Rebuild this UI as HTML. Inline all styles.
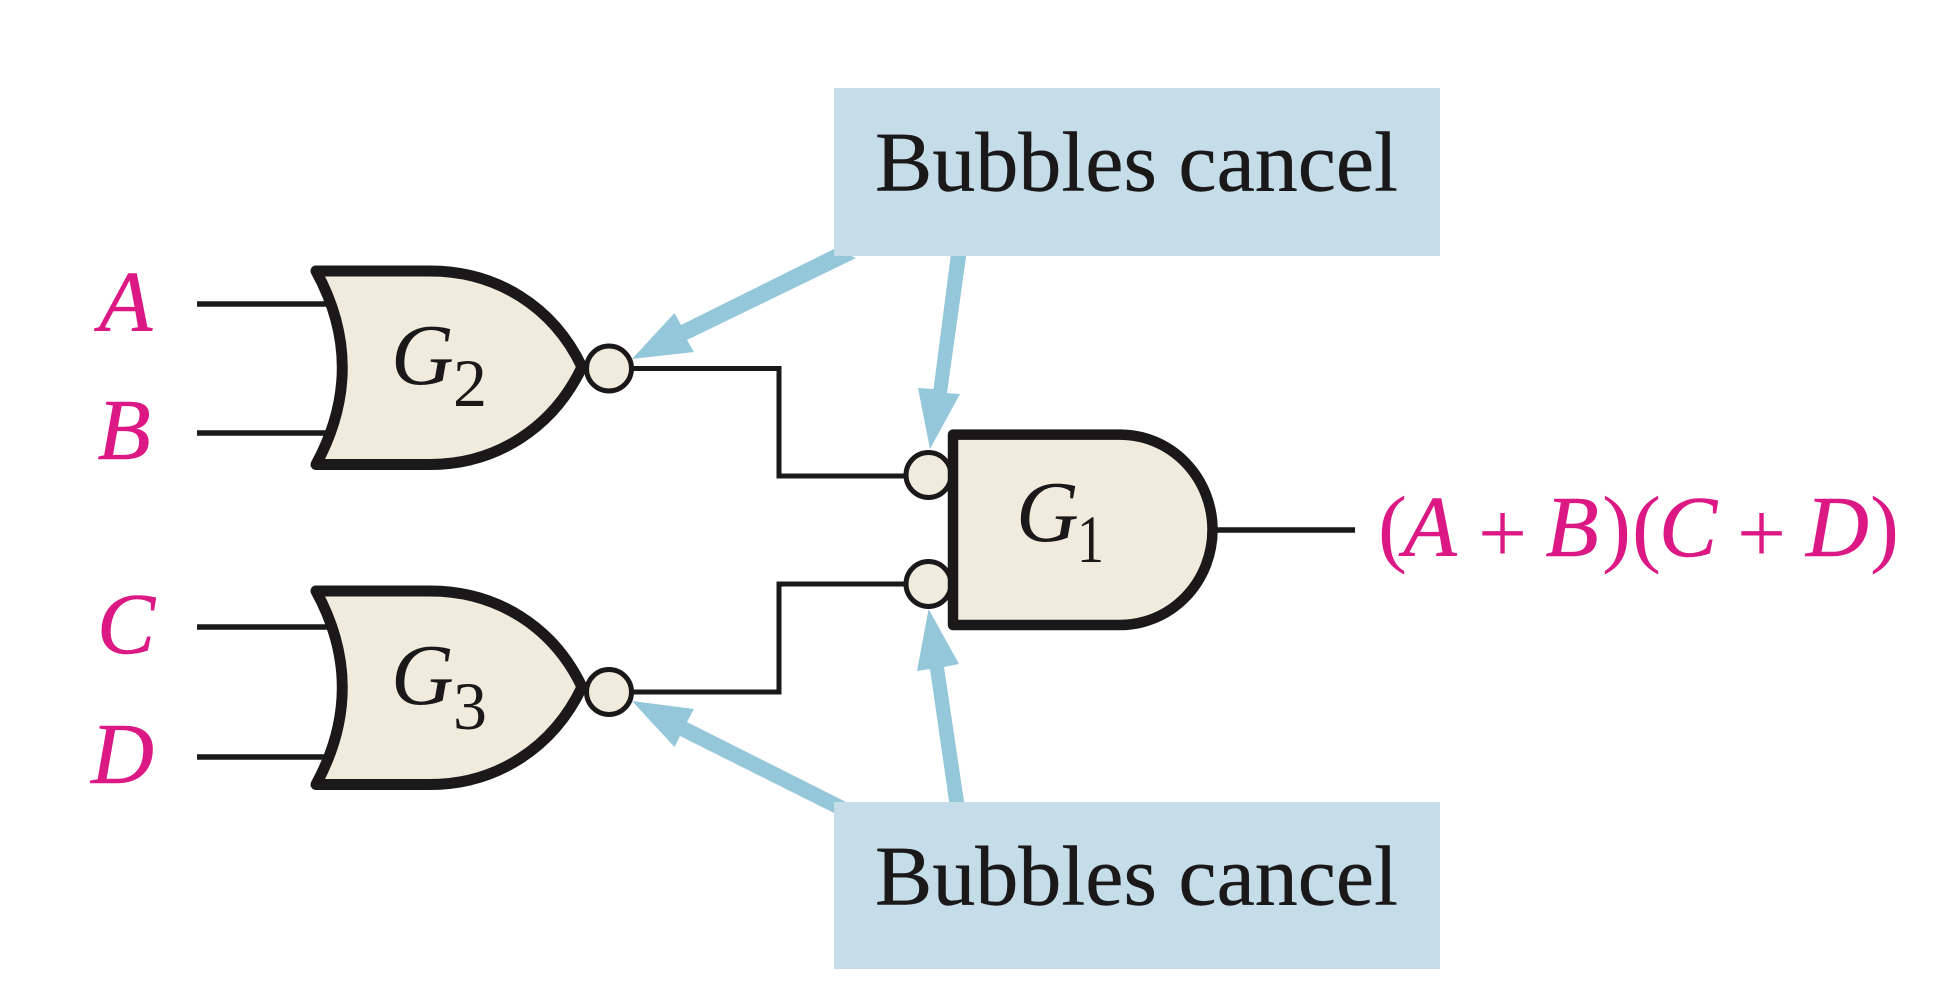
<!DOCTYPE html>
<html>
<head>
<meta charset="utf-8">
<style>
html,body{margin:0;padding:0;background:#fff;width:1948px;height:999px;overflow:hidden}
svg{display:block}
text{font-family:"Liberation Serif",serif}
.p{fill:#db1884;font-style:italic;font-size:87px;stroke:#db1884;stroke-width:.6}
.r{fill:#db1884;font-size:87px;font-style:normal}
.g{fill:#1a1818;font-style:italic;font-size:87px}
.s{fill:#1a1818;font-size:68px}
.b{fill:#1a1818;font-size:85px;stroke:#1a1818;stroke-width:.4}
</style>
</head>
<body>
<svg width="1948" height="999" viewBox="0 0 1948 999" xmlns="http://www.w3.org/2000/svg">
<rect width="1948" height="999" fill="#fff"/>

<!-- arrows -->
<g fill="#94c7da">
<polygon points="834,249 856,258 687,340 694,352 632,359 674.5,313 681,325"/>
<polygon points="951.5,250 967,250 947,393 960,394 930,449 918,388 933.5,389"/>
<polygon points="632,701 694,709 687,722 854,806 834,813 680,736 674.5,747"/>
<polygon points="928.6,609 959,664 944,667 965,808 950,808 930,669 917,671"/>
</g>

<!-- callouts -->
<rect x="834" y="88" width="606" height="168" fill="#c5dde9"/>
<rect x="834" y="802" width="606" height="167" fill="#c5dde9"/>
<text class="b" x="875" y="190.5" textLength="523" lengthAdjust="spacingAndGlyphs">Bubbles cancel</text>
<text class="b" x="875" y="904.5" textLength="523" lengthAdjust="spacingAndGlyphs">Bubbles cancel</text>

<!-- wires -->
<g stroke="#1a1818" fill="none" stroke-linejoin="miter">
<path d="M197 304H332M197 433H332M197 627H332M197 757H332" stroke-width="5.5"/>
<path d="M630 368.5H779V476H907" stroke-width="5"/>
<path d="M630 692H779V584H907" stroke-width="5"/>
<path d="M1215 530H1355" stroke-width="5.5"/>
</g>

<!-- OR/NOR gates -->
<g fill="#f0ebdd" stroke="#1a1818" stroke-width="11" stroke-linejoin="round">
<path d="M316 271H430C496 271 553 306 582 367C553 428 496 464.5 430 464.5H316C351 400 351 335 316 271Z"/>
<path d="M316 591H430C496 591 553 626 582 687C553 748 496 784.5 430 784.5H316C351 720 351 655 316 591Z"/>
</g>

<!-- bubbles -->
<g fill="#f0ebdd" stroke="#1a1818" stroke-width="5">
<circle cx="609" cy="368.5" r="22.5"/>
<circle cx="609" cy="692" r="22.5"/>
<circle cx="928.5" cy="475" r="22.5"/>
<circle cx="928.5" cy="584" r="22.5"/>
</g>

<!-- AND gate -->
<path d="M953 434.6H1120A92.5 95.2 0 0 1 1120 625H953Z" fill="#f0ebdd" stroke="#1a1818" stroke-width="10.5" stroke-linejoin="round"/>

<!-- gate labels -->
<text class="g" x="391" y="384">G</text>
<text class="s" x="453" y="406">2</text>
<text class="g" x="391" y="704">G</text>
<text class="s" x="453" y="729">3</text>
<text class="g" x="1016" y="541">G</text>
<text class="s" x="1077" y="562" textLength="27" lengthAdjust="spacingAndGlyphs">1</text>

<!-- input labels -->
<text class="p" x="99" y="331">A</text>
<text class="p" x="97.5" y="459">B</text>
<text class="p" x="97" y="653">C</text>
<text class="p" x="91" y="783">D</text>

<!-- output expression -->
<text class="r" x="1378" y="556">(</text>
<text class="p" x="1403.5" y="556">A</text>
<text class="r" x="1478" y="562">+</text>
<text class="p" x="1545.5" y="556">B</text>
<text class="r" x="1602" y="556">)</text>
<text class="r" x="1632" y="556">(</text>
<text class="p" x="1659" y="556">C</text>
<text class="r" x="1737" y="562">+</text>
<text class="p" x="1806" y="556">D</text>
<text class="r" x="1870" y="556">)</text>
</svg>
</body>
</html>
